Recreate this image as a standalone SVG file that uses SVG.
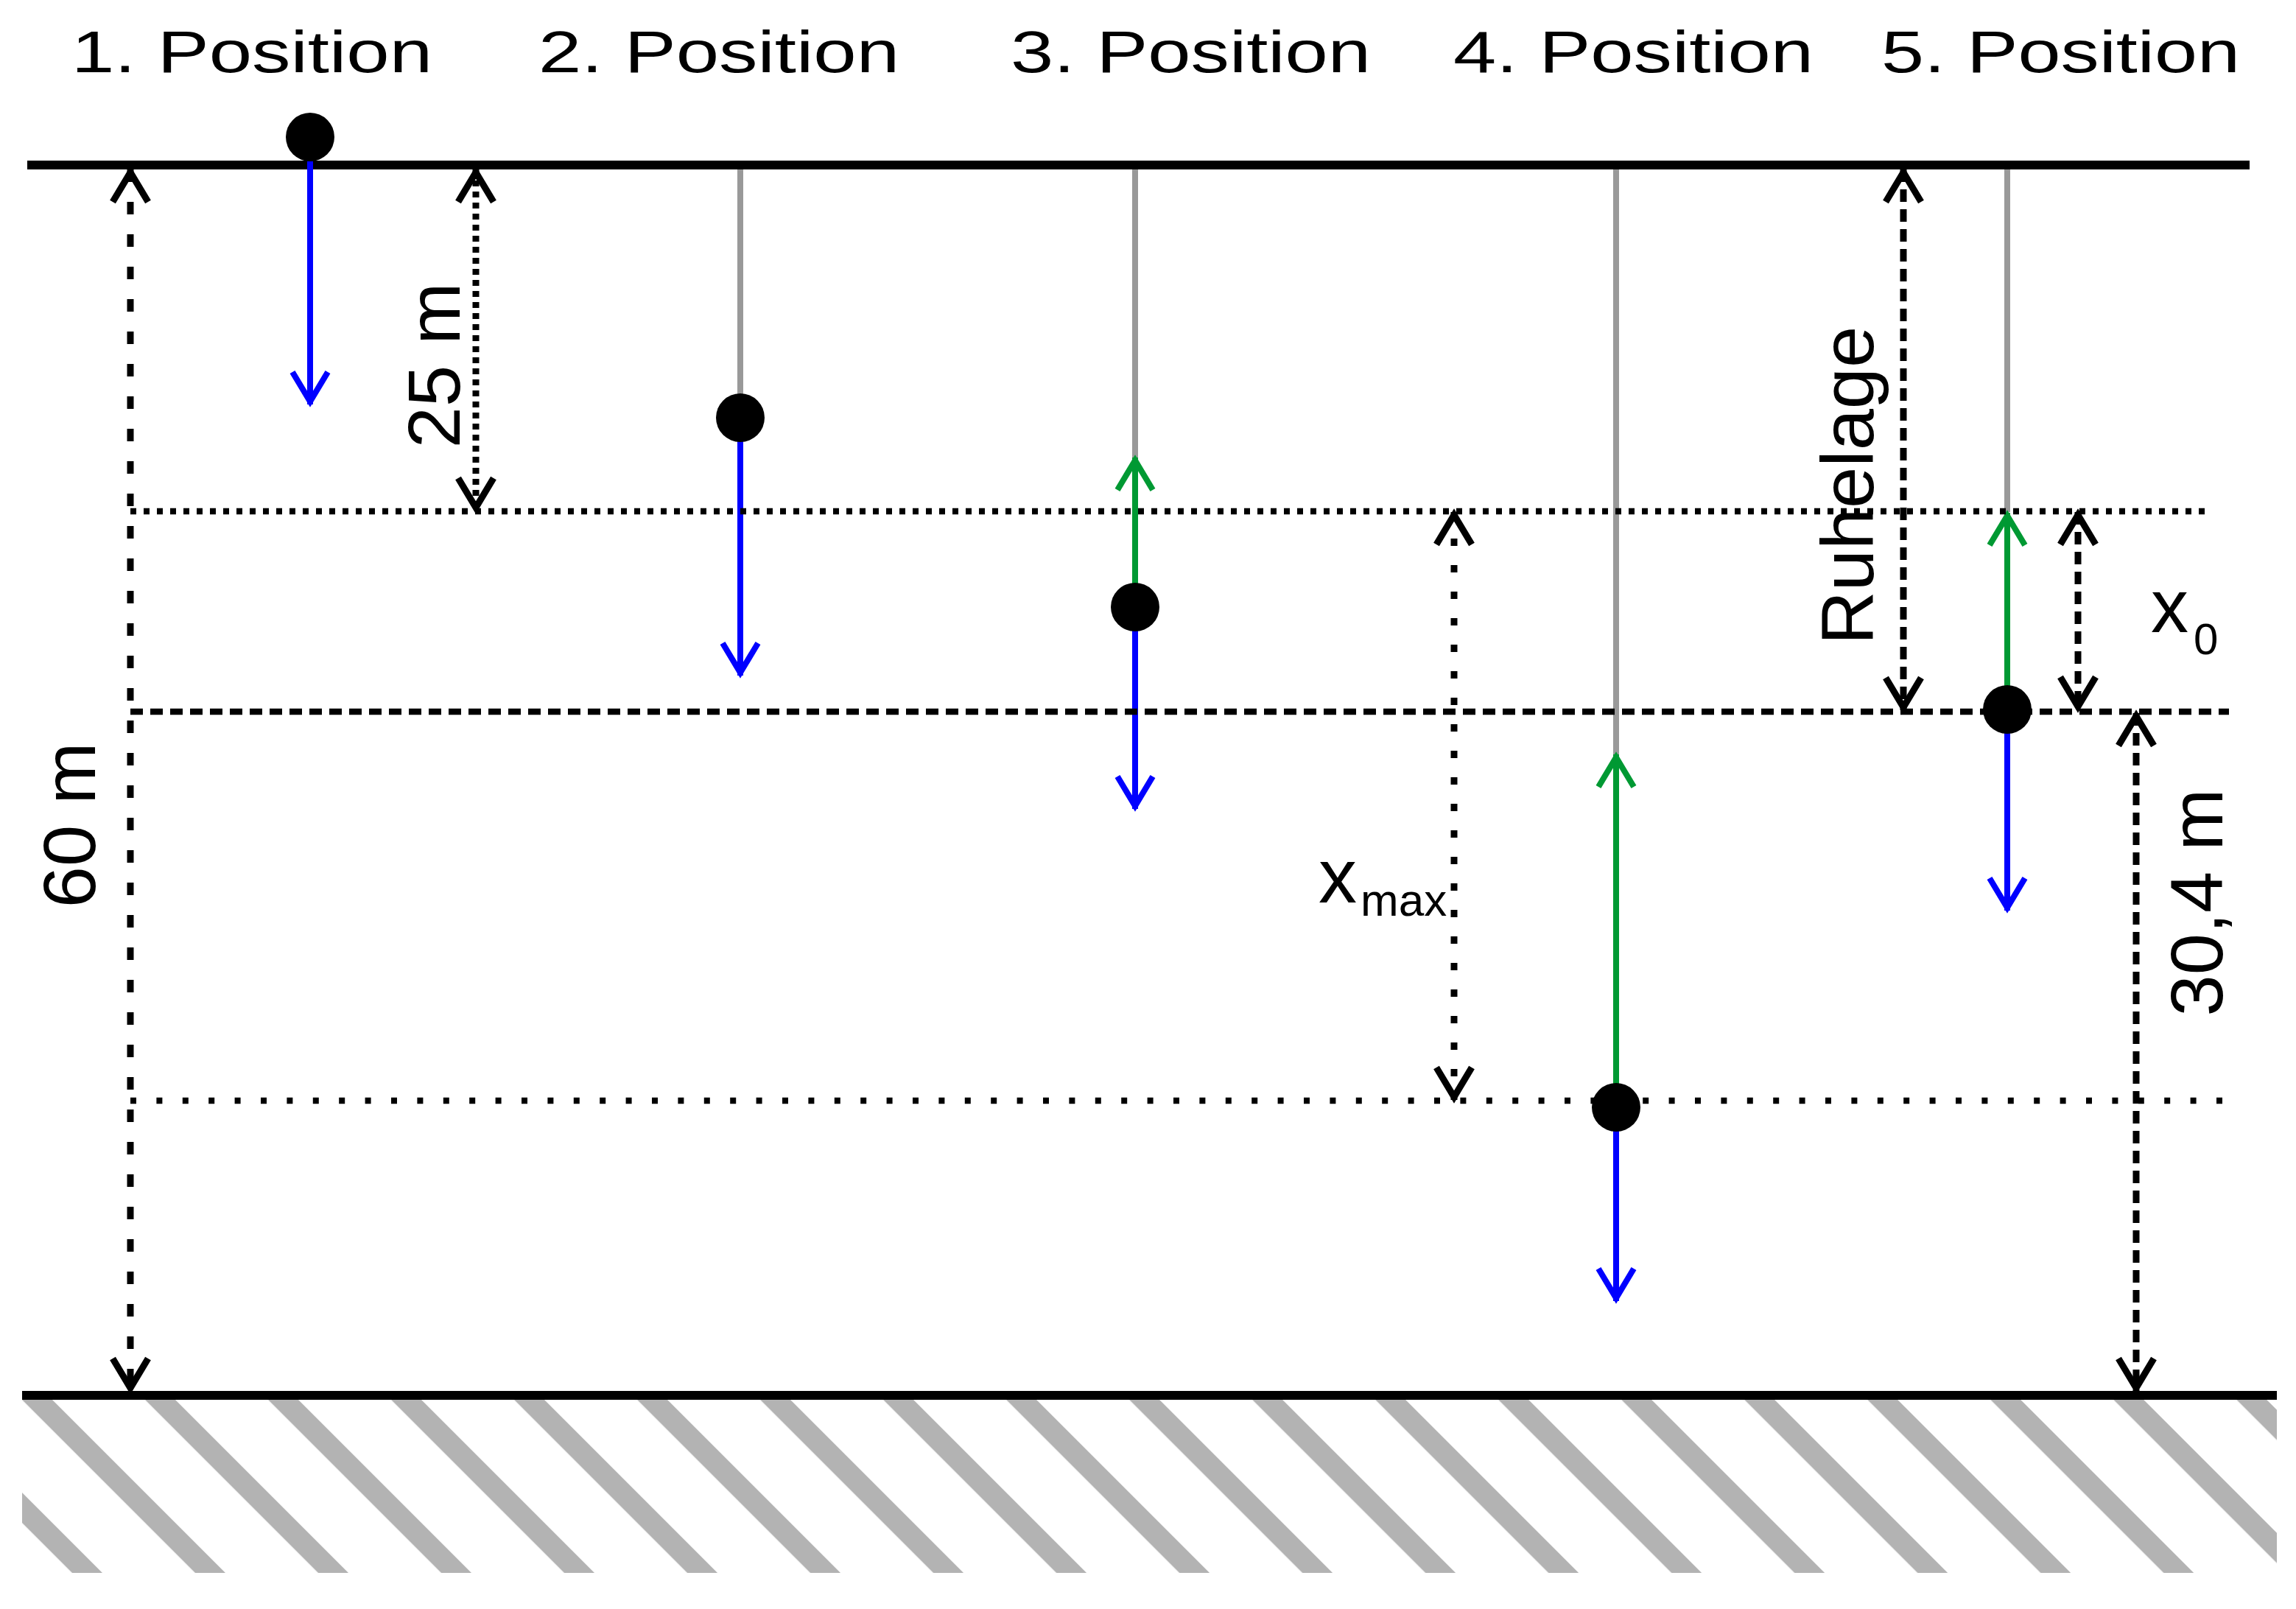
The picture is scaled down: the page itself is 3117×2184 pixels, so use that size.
<svg xmlns="http://www.w3.org/2000/svg" width="3117" height="2184" viewBox="0 0 3117 2184">
<defs>
<style>
.title{font-family:"Liberation Sans",Arial,sans-serif;font-size:79px;fill:#000}
.lbl{font-family:"Liberation Sans",Arial,sans-serif;font-size:101px;fill:#000}
.base{stroke:#000;stroke-width:12;fill:none}
.string{stroke:#999999;stroke-width:8;fill:none}
.blue{stroke:#0000ff;stroke-width:8;fill:none;marker-end:url(#ah-blue)}
.green{stroke:#009933;stroke-width:8;fill:none;marker-end:url(#ah-green)}
.dim{stroke:#000;stroke-width:9;fill:none;marker-start:url(#ah-black);marker-end:url(#ah-black)}
.guide{stroke:#000;stroke-width:8.5;fill:none}
.dash-a{stroke-dasharray:17 10}
.dash-b{stroke-dasharray:17 27}
.dot-a{stroke-dasharray:8 7}
.dot-b{stroke-dasharray:8 10}
.dot-c{stroke-dasharray:10 26}
.dot-d{stroke-dasharray:8 27.4}
.ball{fill:#000}
</style>
<marker id="ah-blue" markerUnits="userSpaceOnUse" markerWidth="70" markerHeight="70" viewBox="-55 -35 70 70" refX="0" refY="0" orient="auto-start-reverse" overflow="visible">
<path d="M-44,-24 L-4,0 L-44,24" fill="none" stroke="#0000ff" stroke-width="8" stroke-dasharray="none"/>
</marker>
<marker id="ah-green" markerUnits="userSpaceOnUse" markerWidth="70" markerHeight="70" viewBox="-55 -35 70 70" refX="0" refY="0" orient="auto-start-reverse" overflow="visible">
<path d="M-44,-24 L-4,0 L-44,24" fill="none" stroke="#009933" stroke-width="8" stroke-dasharray="none"/>
</marker>
<marker id="ah-black" markerUnits="userSpaceOnUse" markerWidth="70" markerHeight="70" viewBox="-55 -35 70 70" refX="0" refY="0" orient="auto-start-reverse" overflow="visible">
<path d="M-44,-24 L-4,0 L-44,24" fill="none" stroke="#000" stroke-width="9" stroke-dasharray="none"/>
</marker>
<pattern id="hatch" patternUnits="userSpaceOnUse" width="20" height="118.1" patternTransform="translate(71,1900) rotate(45)">
<rect x="0" y="0" width="20" height="29" fill="#b3b3b3"/>
</pattern>
</defs>
<rect width="3117" height="2184" fill="#fff"/>

<g id="ground">
<rect x="30" y="1900" width="3061" height="235" fill="url(#hatch)"/>
<line class="base" x1="30" y1="1894" x2="3091" y2="1894"/>
</g>
<g id="ceiling">
<line class="base" x1="37" y1="224" x2="3054" y2="224"/>
</g>

<g id="titles">
<text id="title-1" class="title" x="97" y="98" textLength="490" lengthAdjust="spacingAndGlyphs">1. Position</text>
<text id="title-2" class="title" x="731" y="98" textLength="490" lengthAdjust="spacingAndGlyphs">2. Position</text>
<text id="title-3" class="title" x="1372" y="98" textLength="489" lengthAdjust="spacingAndGlyphs">3. Position</text>
<text id="title-4" class="title" x="1973" y="98" textLength="489" lengthAdjust="spacingAndGlyphs">4. Position</text>
<text id="title-5" class="title" x="2554" y="98" textLength="487" lengthAdjust="spacingAndGlyphs">5. Position</text>
</g>

<g id="strings">
<line class="string" x1="1005" y1="230" x2="1005" y2="567"/>
<line class="string" x1="1541" y1="230" x2="1541" y2="622"/>
<line class="string" x1="2194" y1="230" x2="2194" y2="1025"/>
<line class="string" x1="2725" y1="230" x2="2725" y2="695"/>
</g>

<g id="connectors">
<line class="blue" x1="421" y1="219" x2="421" y2="549"/>
<line class="blue" x1="1005" y1="567" x2="1005" y2="917"/>
<line class="green" x1="1541" y1="824" x2="1541" y2="621"/>
<line class="blue" x1="1541" y1="824" x2="1541" y2="1098"/>
<line class="green" x1="2194" y1="1503" x2="2194" y2="1024"/>
<line class="blue" x1="2194" y1="1503" x2="2194" y2="1766"/>
<line class="green" x1="2725" y1="963" x2="2725" y2="696"/>
<line class="blue" x1="2725" y1="963" x2="2725" y2="1236"/>
</g>

<g id="guides">
<line class="guide dot-b" x1="177" y1="694" x2="3003" y2="694"/>
<line class="guide dash-a" x1="177" y1="966" x2="3026" y2="966"/>
<line class="guide dot-d" x1="177" y1="1494" x2="3022" y2="1494"/>
</g>

<g id="dimensions">
<line id="dim-60m" class="dim dash-b" x1="177" y1="230" x2="177" y2="1888"/>
<line id="dim-25m" class="dim dot-a" x1="646" y1="230" x2="646" y2="693"/>
<line id="dim-xmax" class="dim dot-c" x1="1974" y1="695" x2="1974" y2="1493"/>
<line id="dim-ruhelage" class="dim dash-a" x1="2584" y1="230" x2="2584" y2="964"/>
<line id="dim-x0" class="dim dash-a" x1="2821" y1="695" x2="2821" y2="963"/>
<line id="dim-304m" class="dim dash-a" x1="2900" y1="968" x2="2900" y2="1888"/>
</g>

<g id="labels">
<text id="lbl-60m" class="lbl" text-anchor="middle" transform="translate(129,1120) rotate(-90)">60 m</text>
<text id="lbl-25m" class="lbl" text-anchor="middle" transform="translate(624,496) rotate(-90)">25 m</text>
<text id="lbl-ruhelage" class="lbl" text-anchor="middle" transform="translate(2543,659) rotate(-90)">Ruhelage</text>
<text id="lbl-304m" class="lbl" text-anchor="middle" transform="translate(3017,1225) rotate(-90)">30,4 m</text>
<g id="lbl-xmax">
<text class="lbl" x="1790" y="1225" style="font-size:104px">x</text>
<text class="lbl" x="1847" y="1243" style="font-size:62px">max</text>
</g>
<g id="lbl-x0">
<text class="lbl" x="2920" y="858" style="font-size:102px">x</text>
<text class="lbl" x="2978" y="888" style="font-size:60px">0</text>
</g>
</g>

<g id="balls">
<circle id="ball-1" class="ball" cx="421" cy="186" r="33"/>
<circle id="ball-2" class="ball" cx="1005" cy="567" r="33"/>
<circle id="ball-3" class="ball" cx="1541" cy="824" r="33"/>
<circle id="ball-4" class="ball" cx="2194" cy="1503" r="33"/>
<circle id="ball-5" class="ball" cx="2725" cy="963" r="33"/>
</g>
</svg>
